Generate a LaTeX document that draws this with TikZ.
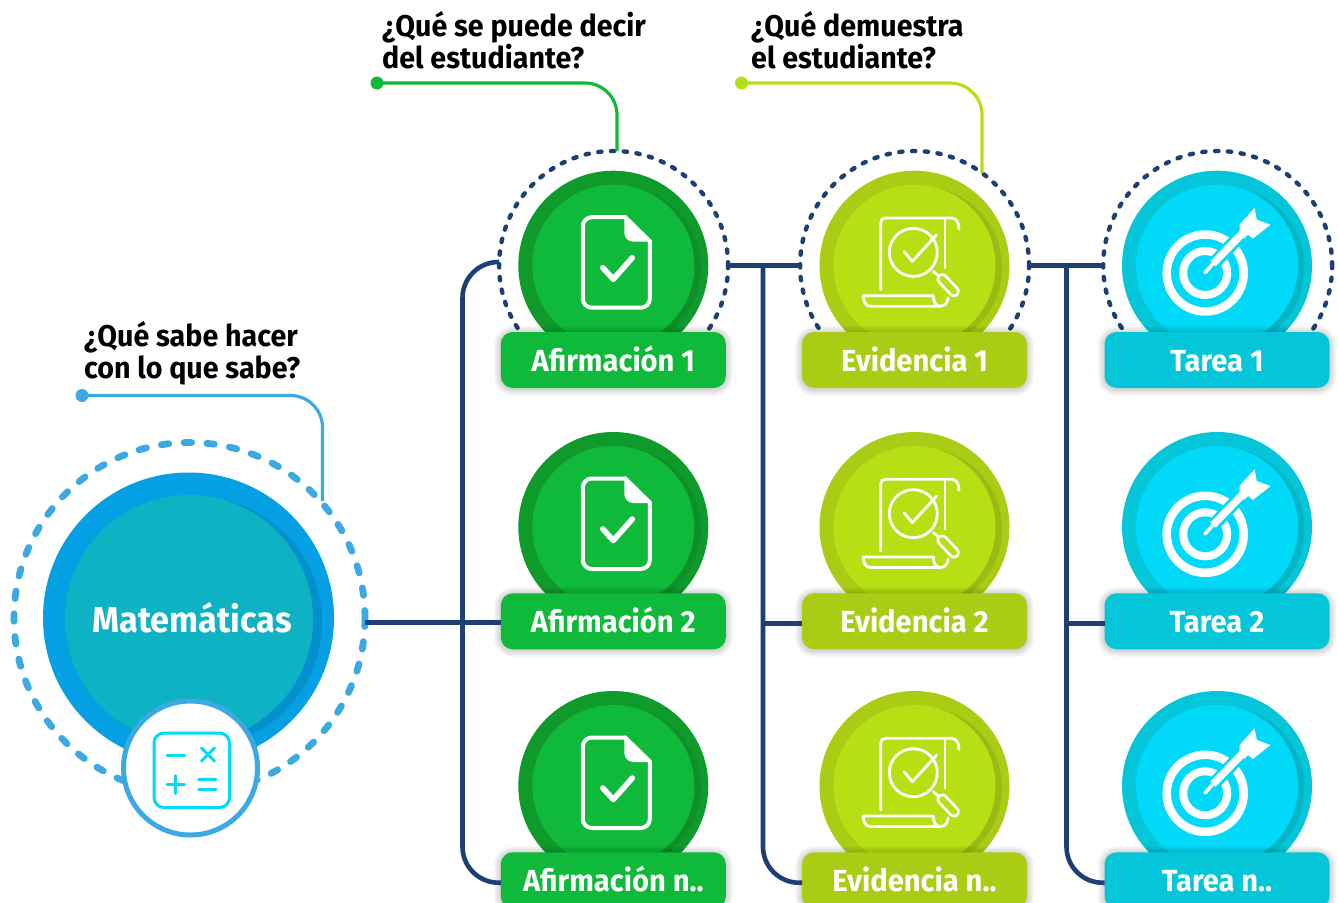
\documentclass[tikz,border=0pt]{standalone}
\usepackage{fontspec}
\setmainfont{Fira Sans}[FakeStretch=0.955]
\definecolor{navy}{HTML}{1C3F74}
\definecolor{skyl}{HTML}{3DA9E3}
\definecolor{grO}{HTML}{0F9B2C}
\definecolor{grI}{HTML}{0FB93A}
\definecolor{grD}{HTML}{0F8F28}
\definecolor{liO}{HTML}{AACC14}
\definecolor{liI}{HTML}{B6DF14}
\definecolor{liD}{HTML}{9DBA14}
\definecolor{cyO}{HTML}{05C6D8}
\definecolor{cyI}{HTML}{00D9F7}
\definecolor{cyD}{HTML}{05B5C5}
\definecolor{buO}{HTML}{04A0E3}
\definecolor{buI}{HTML}{0DB2C3}
\definecolor{buD}{HTML}{0490CE}
\tikzset{
  disc/.style={circle,inner sep=0pt,outer sep=0pt,minimum size=190pt,fill=#1},
  ringS/.style={circle,inner sep=0pt,outer sep=0pt,minimum size=229pt,draw=navy,line width=4.4pt,line cap=round,dash pattern=on 3.3pt off 9.5pt},
  ringB/.style={circle,inner sep=0pt,outer sep=0pt,minimum size=351pt,draw=skyl,line width=6.8pt,line cap=round,dash pattern=on 7.5pt off 15.3pt},
  conn/.style={draw=navy,line width=4.6pt},
  call/.style={line width=3.2pt,rounded corners=32pt},
  lab/.style={rectangle,rounded corners=12pt,minimum width=225pt,minimum height=56pt,inner sep=0pt,outer sep=0pt,fill=#1,text=white,font=\fontsize{30.5}{32}\selectfont\bfseries,text height=23pt,text depth=0.4pt},
  quest/.style={anchor=north west,align=left,inner sep=0pt,font=\fontsize{30}{32}\selectfont\bfseries,text=black},
  ico/.style={draw=white,line width=#1,line cap=round,line join=round,fill=none},
  docicon/.pic={
    \draw[ico=4pt,rounded corners=9pt] (12,-48.5) -- (-30.5,-48.5) -- (-30.5,42) -- (36.5,42) -- (36.5,-24.5);
    \draw[ico=4pt] (12,-48.5) -- (36.5,-24.5);
    \fill[white,rounded corners=2pt] (11,-49.5) -- (37.5,-24) -- (22,-24) .. controls (15,-24) and (11,-28) .. (11,-35) -- cycle;
    \draw[ico=5.6pt] (-10.5,2) -- (0,13.5) -- (19,-8);
  },
  evidicon/.pic={
    \draw[ico=2.8pt] (-33.8,24) -- (-33.8,-43) .. controls (-33.8,-46) and (-32,-47.7) .. (-29,-47.7) -- (37,-47.7) .. controls (42,-47.7) and (44.5,-43) .. (44.5,-36.7);
    \draw[ico=2.8pt] (30.5,-46) -- (30.5,2.3);
    \draw[ico=2.8pt] (-51.2,30) -- (18.8,30) .. controls (18.8,36) and (21,40.5) .. (26,40.5) .. controls (31,40.5) and (33.5,36) .. (33.5,32);
    \draw[ico=2.8pt] (-51.2,30) .. controls (-51.2,36) and (-49,40.5) .. (-44,40.5) -- (26,40.5);
    \draw[ico=2.8pt] (-1.2,-13.3) circle (24);
    \draw[ico=2.8pt] (-10.5,-14.3) -- (-2.2,-4.3) -- (22.2,-31);
    \draw[ico=2.8pt] (18.8,5.7) -- (24,10);
    \draw[white,line width=11.5pt,line cap=round] (27.8,13.3) -- (39.5,25.7);
    \draw[liI,line width=6pt,line cap=round] (27.8,13.3) -- (39.5,25.7);
  },
  targicon/.pic={
    \draw[white,line width=8.5pt] (-11.8,7.3) circle (38.5);
    \draw[white,line width=8pt] (-11.8,7.3) circle (22);
    \draw[cyI,line width=13pt] (-10,5) -- (24,-31);
    \draw[white,line width=3.5pt,line cap=round] (-12,7) -- (-4,-2);
    \draw[white,line width=7.5pt] (-4,-2) -- (28,-35);
    \fill[white] (37.5,-57.7) -- (39.8,-46) -- (53.5,-41) -- (35.8,-27) -- (31,-31) -- (27,-27) -- (22.5,-34) -- (22.5,-41) -- cycle;
  },
}
% name, x, y(center of disc), outer, inner, dark, icon, label colour, text
\newcommand\medal[9]{%
  \node[disc=#4] (#1) at (#2,#3) {};
  \begin{scope}
    \clip (#2,#3) circle (95);
    \fill[#6] (#2+6,#3+2) circle (81.5);
    \fill[#5] (#2,#3) circle (81);
  \end{scope}
  \pic at (#2,#3) {#7};
  \foreach \s in {1,...,7}{
    \fill[black,opacity=0.025,rounded corners=12pt+\s pt] (#2-112.5-\s,#3+66.2-\s+1) rectangle (#2+112.5+\s,#3+122.2+\s+1);
  }
  \node[lab=#8] (#1L) at (#2,#3+94.3) {#9};
}
\begin{document}
\begin{tikzpicture}[x=1pt,y=-1pt]
\clip (0,0) rectangle (1338,902);
\fill[white] (0,0) rectangle (1338,902);

% dashed rings
\node[ringB] (ringM) at (189.5,618) {};
\node[ringS] (ringA) at (613.6,265.5) {};
\node[ringS] (ringE) at (914.6,265.5) {};
\node[ringS] (ringT) at (1217.7,265.5) {};

% helper points
\coordinate (busA) at (462.5,882.7);
\coordinate (busE) at (763,882.7);
\coordinate (busT) at (1066.5,882.7);
\coordinate (dotQ) at (82,395.5);
\coordinate (dotA) at (377,83);
\coordinate (dotE) at (741.5,83);
\coordinate (elbQ) at (322.5,395.5);
\coordinate (elbA) at (617,83);
\coordinate (elbE) at (982,83);
\coordinate (endQ) at (322.5,501);
\coordinate (endA) at (617,151);
\coordinate (endE) at (982,173);

% callouts
\draw[call,draw=skyl] (dotQ) -- (elbQ) -- (endQ);
\fill[skyl] (dotQ) circle (6.5);
\draw[call,draw=grI] (dotA) -- (elbA) -- (endA);
\fill[grI] (dotA) circle (6.5);
\draw[call,draw=liI] (dotE) -- (elbE) -- (endE);
\fill[liI] (dotE) circle (6.5);

% big circle
\node[disc=buO,minimum size=291pt] (mat) at (188.5,618) {};
\begin{scope}
  \clip (188.5,618) circle (145.5);
  \fill[buD] (197,622) circle (125);
  \fill[buI] (189,619) circle (124);
\end{scope}
\node[text=white,font=\fontsize{36}{38}\selectfont\bfseries] (matT) at (192,618) {Matemáticas};

% medals
\medal{afirA}{613.3}{265.7}{grO}{grI}{grD}{docicon}{grI}{Afirmación 1}
\medal{afirB}{613.3}{527}{grO}{grI}{grD}{docicon}{grI}{Afirmación 2}
\medal{afirC}{613.3}{786}{grO}{grI}{grD}{docicon}{grI}{Afirmación n..}
\medal{eviA}{914.5}{265.7}{liO}{liI}{liD}{evidicon}{liO}{Evidencia 1}
\medal{eviB}{914.5}{527}{liO}{liI}{liD}{evidicon}{liO}{Evidencia 2}
\medal{eviC}{914.5}{786}{liO}{liI}{liD}{evidicon}{liO}{Evidencia n..}
\medal{tarA}{1217}{265.7}{cyO}{cyI}{cyD}{targicon}{cyO}{Tarea 1}
\medal{tarB}{1217}{527}{cyO}{cyI}{cyD}{targicon}{cyO}{Tarea 2}
\medal{tarC}{1217}{786}{cyO}{cyI}{cyD}{targicon}{cyO}{Tarea n..}

% connectors
\draw[conn] ([yshift=-1.3pt]ringM.east |- afirBL.west) -- ([yshift=-1.3pt]afirBL.west);
\draw[conn,rounded corners=36pt] ([yshift=3.5pt]ringA.west) -| (busA) -- (afirCL.west |- busA);
\draw[conn] (ringA.east) -- (ringE.west);
\draw[conn,rounded corners=36pt] (ringA.east -| busE) -- (busE) -- (eviCL.west |- busE);
\draw[conn] ([yshift=-2pt]busE |- eviBL.west) -- ([yshift=-2pt]eviBL.west);
\draw[conn] (ringE.east) -- (ringT.west);
\draw[conn,rounded corners=36pt] (ringE.east -| busT) -- (busT) -- (tarCL.west |- busT);
\draw[conn] ([yshift=-2pt]busT |- tarBL.west) -- ([yshift=-2pt]tarBL.west);

% calculator badge
\node[circle,inner sep=0pt,outer sep=0pt,minimum size=134pt,fill=white,draw=skyl,line width=5pt] (calc) at (190.5,768) {};
\begin{scope}[draw=cyI,line width=3pt,line cap=round]
  \draw[rounded corners=10pt] (154,733) rectangle (229.5,807.5);
  \draw (167,755) -- (184.5,755);
  \draw (201.5,748) -- (214.5,761);
  \draw (214.5,748) -- (201.5,761);
  \draw (167,784.5) -- (184.5,784.5);
  \draw (175.8,775.5) -- (175.8,793.5);
  \draw (198.5,779) -- (216,779);
  \draw (198.5,789.5) -- (216,789.5);
\end{scope}

% questions
\node[quest] (q1) at (84,321) {¿Qué sabe hacer\\con lo que sabe?};
\node[quest] (q2) at (382,11) {¿Qué se puede decir\\del estudiante?};
\node[quest] (q3) at (751,11) {¿Qué demuestra\\el estudiante?};
\end{tikzpicture}
\end{document}
